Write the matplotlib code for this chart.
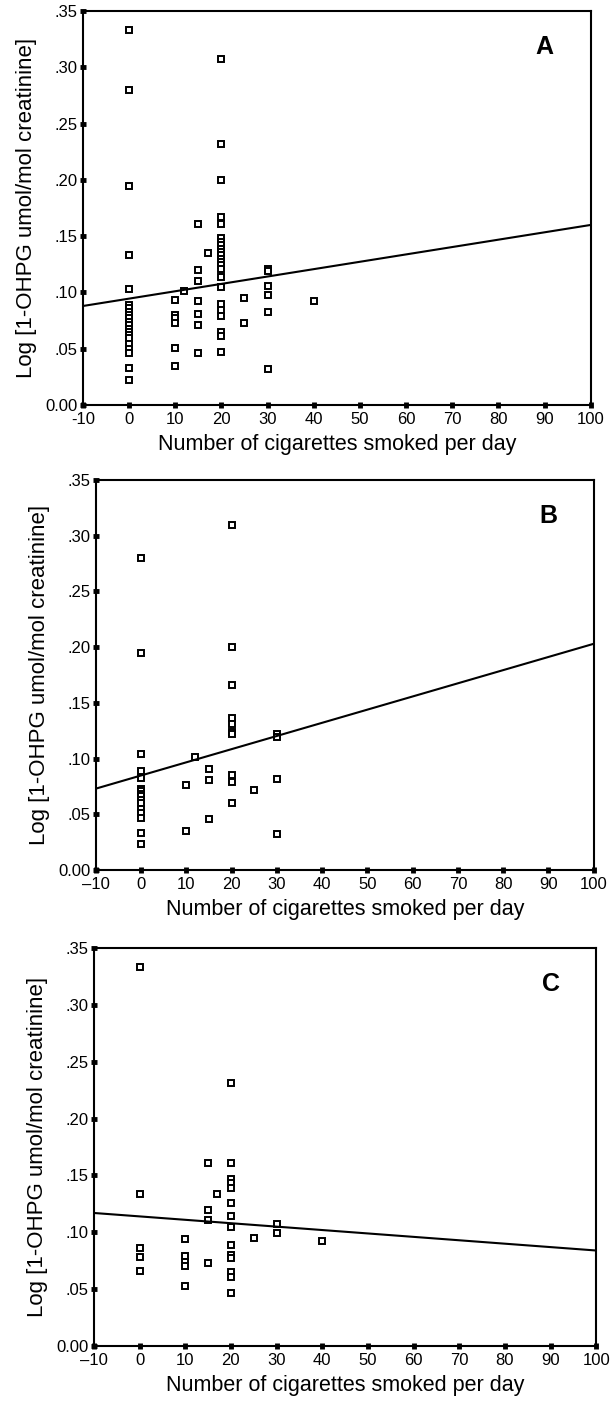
import numpy as np
import matplotlib.pyplot as plt

plt.rcParams['font.family'] = ['Liberation Sans', 'DejaVu Sans']

# panel A: all subjects
a_x = [0] * 21 + [10] * 6 + [12] + [15] * 7 + [17] + [20] * 23 + [25] * 2 + [30] * 6 + [40]
a_y = [0.333, 0.280, 0.195, 0.133, 0.103, 0.089, 0.086, 0.083, 0.080, 0.077, 0.074, 0.071,
       0.068, 0.065, 0.062, 0.060, 0.054, 0.050, 0.046, 0.033, 0.022,
       0.093, 0.080, 0.077, 0.073, 0.051, 0.035,
       0.101,
       0.161, 0.120, 0.110, 0.092, 0.081, 0.071, 0.046,
       0.135,
       0.307, 0.232, 0.200, 0.167, 0.161, 0.148, 0.145, 0.142, 0.139, 0.136, 0.133, 0.130,
       0.127, 0.124, 0.121, 0.114, 0.105, 0.090, 0.084, 0.079, 0.065, 0.061, 0.047,
       0.095, 0.073,
       0.121, 0.119, 0.106, 0.098, 0.083, 0.032,
       0.092]
a_fit = [0.088, 0.160]

# panel B
b_x = [0] * 16 + [10] * 2 + [12] + [15] * 3 + [20] * 10 + [25] + [30] * 4
b_y = [0.280, 0.195, 0.104, 0.089, 0.083, 0.073, 0.071, 0.068, 0.066, 0.063, 0.060,
       0.055, 0.051, 0.047, 0.033, 0.023,
       0.076, 0.035,
       0.101,
       0.091, 0.081, 0.046,
       0.310, 0.200, 0.166, 0.136, 0.131, 0.124, 0.122, 0.085, 0.079, 0.060,
       0.072,
       0.122, 0.119, 0.082, 0.032]
b_fit = [0.073, 0.203]

# panel C
c_x = [0] * 5 + [10] * 5 + [15] * 4 + [17] + [20] * 14 + [25] + [30] * 2 + [40]
c_y = [0.333, 0.134, 0.086, 0.078, 0.066,
       0.094, 0.079, 0.074, 0.070, 0.053,
       0.161, 0.120, 0.111, 0.073,
       0.134,
       0.231, 0.161, 0.147, 0.143, 0.139, 0.126, 0.114, 0.105, 0.089, 0.080, 0.077,
       0.065, 0.061, 0.047,
       0.095,
       0.107, 0.099,
       0.092]
c_fit = [0.117, 0.084]

fit_x = [-10, 100]
xticks = list(range(-10, 101, 10))
xlabels_a = ['-10'] + [str(v) for v in xticks[1:]]
xlabels_bc = ['\u201310'] + [str(v) for v in xticks[1:]]
yticks = [0, 0.05, 0.10, 0.15, 0.20, 0.25, 0.30, 0.35]
ylabels = ['0.00', '.05', '.10', '.15', '.20', '.25', '.30', '.35']

fig = plt.figure(figsize=(6.14, 14.03), dpi=100)
boxes = [[0.135, 0.7113, 0.827, 0.2808],
         [0.156, 0.3799, 0.811, 0.278],
         [0.153, 0.0406, 0.818, 0.2837]]
panels = [(a_x, a_y, a_fit, 'A', xlabels_a),
          (b_x, b_y, b_fit, 'B', xlabels_bc),
          (c_x, c_y, c_fit, 'C', xlabels_bc)]

for box, (px, py, pf, letter, xl) in zip(boxes, panels):
    ax = fig.add_axes(box)
    ax.plot(px, py, 's', ms=5, mfc='white', mec='black', mew=1.4, ls='none')
    ax.plot(fit_x, pf, color='black', lw=1.5)
    ax.set_xlim(-10, 100)
    ax.set_ylim(0, 0.35)
    ax.set_xticks(xticks)
    ax.set_xticklabels(xl)
    ax.set_yticks(yticks)
    ax.set_yticklabels(ylabels)
    ax.tick_params(direction='inout', length=4, width=3.5, labelsize=12, pad=2)
    ax.tick_params(axis='x', pad=3)
    for s in ax.spines.values():
        s.set_linewidth(1.5)
    ax.set_xlabel('Number of cigarettes smoked per day', fontsize=15.5, labelpad=5)
    ax.set_ylabel('Log [1-OHPG umol/mol creatinine]', fontsize=16, labelpad=6)
    ax.text(90, 0.318, letter, fontsize=18, fontweight='bold', ha='center', va='center')

fig.savefig('out.png', dpi=100)
